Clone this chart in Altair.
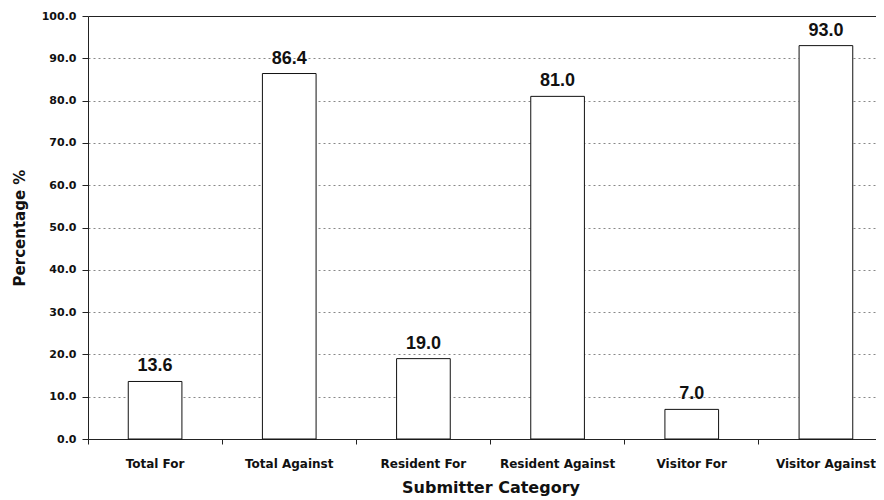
import altair as alt
import pandas as pd

categories = ["Total For", "Total Against", "Resident For", "Resident Against", "Visitor For", "Visitor Against"]
values = [13.6, 86.4, 19.0, 81.0, 7.0, 93.0]
y_ticks = [0, 10, 20, 30, 40, 50, 60, 70, 80, 90, 100]

df = pd.DataFrame({"cat": categories, "val": values})
AX_FONT = "DejaVu Sans"
LBL_FONT = "Liberation Sans"

xscale = alt.Scale(range=[0, 805], paddingInner=0, paddingOuter=0)

x = alt.X("cat:N", sort=categories, title="Submitter Category", scale=xscale,
          axis=alt.Axis(labelAngle=0, bandPosition=0, tickSize=5, tickColor="#222",
                        domainColor="#222", labelFont=AX_FONT, labelFontSize=12,
                        labelFontWeight="bold", labelColor="#111", labelPadding=14,
                        titleFont=AX_FONT, titleFontSize=16, titleFontWeight="bold",
                        titleColor="#111", titlePadding=10, grid=False))
y = alt.Y("val:Q", title="Percentage %",
          scale=alt.Scale(domain=[0, 100], nice=False),
          axis=alt.Axis(values=y_ticks, format=".1f", tickSize=6, tickColor="#222",
                        domainColor="#222", labelFont=AX_FONT, labelFontSize=11,
                        labelFontWeight="bold", labelColor="#111", labelPadding=6,
                        titleFont=AX_FONT, titleFontSize=15, titleFontWeight="bold",
                        titleColor="#111", titlePadding=14,
                        grid=True,
                        gridColor={"condition": {"test": "datum.value == 100", "value": "#222"}, "value": "#888"},
                        gridDash={"condition": {"test": "datum.value == 100", "value": []}, "value": [2, 3]},
                        gridWidth=1))

bars = alt.Chart(df).mark_bar(width=alt.RelativeBandSize(0.4), fill="white",
                              stroke="#111", strokeWidth=1).encode(x=x, y=y)
text = alt.Chart(df).mark_text(dy=-10, baseline="alphabetic", font=LBL_FONT, fontSize=18,
                               fontWeight="bold", color="#111").encode(
    x=alt.X("cat:N", sort=categories, scale=xscale), y="val:Q",
    text=alt.Text("val:Q", format=".1f"))

chart = (bars + text).properties(
    width=788, height=423,
    autosize=alt.AutoSizeParams(type="none"),
    padding={"left": 80, "top": 8, "right": 0, "bottom": 61},
).configure_view(stroke=None)

chart.save("out.html", embed_options={"renderer": "svg", "actions": False})
